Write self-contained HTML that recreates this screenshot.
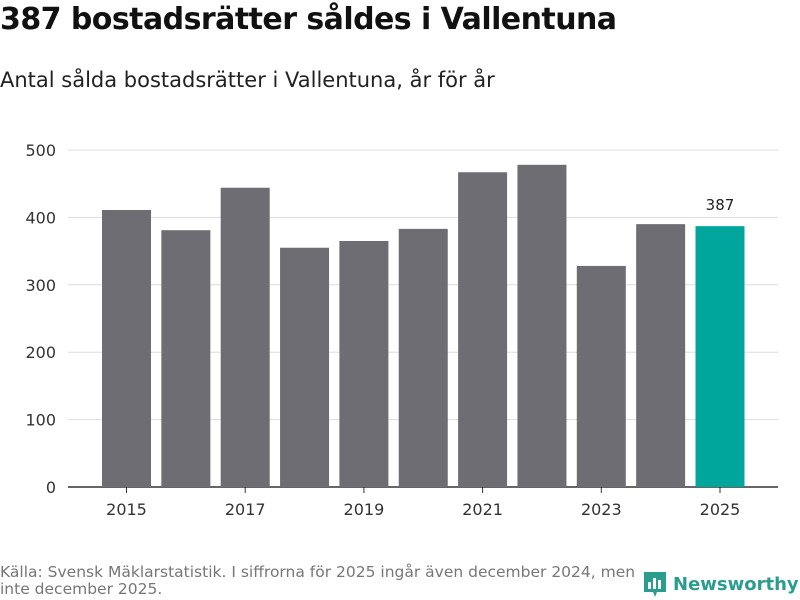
<!DOCTYPE html>
<html><head><meta charset="utf-8"><style>
body{margin:0;background:#fff;font-family:"DejaVu Sans","Liberation Sans",sans-serif;}
#wrap{position:relative;width:800px;height:600px;overflow:hidden;}
h1{position:absolute;left:0;top:2px;margin:0;font-size:30px;font-weight:bold;color:#111;letter-spacing:-0.55px;}
h2{position:absolute;left:0;top:68px;margin:0;font-size:21px;font-weight:normal;color:#222;}
.src{position:absolute;left:0;top:564px;font-size:15.5px;color:#777;line-height:17px;width:660px;}
.logo{position:absolute;left:643px;top:570px;display:flex;align-items:center;font-size:18px;color:#2a9d8f;font-weight:bold;}
</style></head><body>
<div id="wrap">
<h1>387 bostadsrätter såldes i Vallentuna</h1>
<h2>Antal sålda bostadsrätter i Vallentuna, år för år</h2>
<svg id="chart" width="800" height="600" style="position:absolute;left:0;top:0"></svg>
<div class="src">Källa: Svensk Mäklarstatistik. I siffrorna för 2025 ingår även december 2024, men<br>inte december 2025.</div>
<div class="logo"><svg width="24" height="28" viewBox="0 0 24 28"><path d="M1 2h22v20H14l-2 5-2-5H1z" fill="#2a9d8f"/><rect x="5" y="12" width="3" height="7" fill="#fff"/><rect x="10" y="8" width="3" height="11" fill="#fff"/><rect x="15" y="10" width="3" height="9" fill="#fff"/></svg><span style="margin-left:6px">Newsworthy</span></div>
</div>
<script>
const years=[2015,2016,2017,2018,2019,2020,2021,2022,2023,2024,2025];
const values=[411,381,444,355,365,383,467,478,328,390,387];
const yTicks=[0,100,200,300,400,500];
const xLabels=[2015,2017,2019,2021,2023,2025];
const svg=document.getElementById('chart');const NS='http://www.w3.org/2000/svg';
const y0=487,y1=150,x0=68,x1=778;
const y=v=>y0-(v/500)*(y0-y1);
const step=59.35,first=126.5;
const x=i=>first+i*step;
function el(t,a){const e=document.createElementNS(NS,t);for(const k in a)e.setAttribute(k,a[k]);svg.appendChild(e);return e;}
yTicks.forEach(t=>{
 const l=el('line',{x1:x0,x2:x1,y1:y(t),y2:y(t),stroke:t===0?'#333':'#ddd','stroke-width':t===0?1.5:1});
 
 
 const tx=el('text',{x:56,y:y(t)+6,'text-anchor':'end','font-size':16,fill:'#333'});tx.textContent=t;
 
 
});
values.forEach((v,i)=>{
 const last=i===values.length-1;
 const r=el('rect',{x:x(i)-24.5,y:y(v),width:49,height:y0-y(v),fill:last?'#00a69c':'#6e6d73'});
 
 
 if(last){const t=el('text',{x:x(i),y:y(v)-16,'text-anchor':'middle','font-size':15,fill:'#222'});t.textContent=v;
  
  }
});
xLabels.forEach(yr=>{
 const i=years.indexOf(yr);
 el('line',{x1:x(i),x2:x(i),y1:y0,y2:y0+6,stroke:'#333'});
 const t=el('text',{x:x(i),y:515,'text-anchor':'middle','font-size':16,fill:'#333'});t.textContent=yr;
 
 
});
</script>
</body></html>
